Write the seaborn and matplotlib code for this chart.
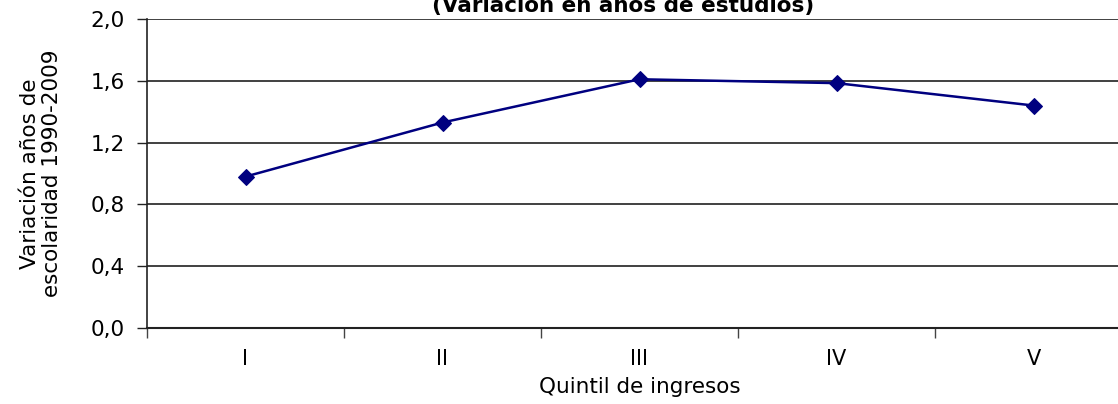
import numpy as np
import pandas as pd
import seaborn as sns
import matplotlib.pyplot as plt
from matplotlib.ticker import FuncFormatter, FixedLocator

# data
quintiles = ["I", "II", "III", "IV", "V"]
variacion = [0.98, 1.33, 1.61, 1.585, 1.44]

df = pd.DataFrame({"quintil": quintiles, "variacion": variacion})

sns.set_style("white")
plt.rcParams['font.family'] = ['DejaVu Sans']
plt.rcParams['text.color'] = 'black'
plt.rcParams['axes.labelcolor'] = 'black'
plt.rcParams['xtick.color'] = 'black'
plt.rcParams['ytick.color'] = 'black'

fig = plt.figure(figsize=(11.18, 4.04), dpi=100)
ax = fig.add_axes([147 / 1118, 76 / 404, 985 / 1118, 309 / 404])

sns.lineplot(data=df, x="quintil", y="variacion", ax=ax, color="#000080",
             marker="D", markersize=8, markeredgecolor="#000080",
             linewidth=1.8, sort=False)

ax.set_ylim(0, 2.0)
ax.set_xlim(-0.5, 4.5)
ax.set_yticks(np.arange(0, 2.01, 0.4))
ax.yaxis.set_major_formatter(FuncFormatter(lambda v, p: f"{v:.1f}".replace(".", ",")))
ax.yaxis.grid(True, color="#202020", linewidth=1.2)
ax.set_axisbelow(True)

# tick marks between categories, labels at the centres
ax.xaxis.set_minor_locator(FixedLocator(np.arange(-0.5, 4.6, 1)))
ax.tick_params(axis="x", which="major", length=0, labelsize=15, pad=15)
ax.tick_params(axis="x", which="minor", length=7, width=1, color="#444444", direction="out")
ax.tick_params(axis="y", length=7, width=1, color="#222222", direction="out", labelsize=15.5, pad=9)
ax.tick_params(bottom=True, left=True, which="both")

for s in ["top", "right"]:
    ax.spines[s].set_visible(False)
ax.spines["left"].set_color("#222222")
ax.spines["bottom"].set_color("#222222")
ax.spines["left"].set_linewidth(1.2)
ax.spines["bottom"].set_linewidth(1.5)

ax.set_xlabel("Quintil de ingresos", fontsize=15.5, labelpad=6)
ax.set_ylabel("Variación años de\nescolaridad 1990-2009", fontsize=15.5, linespacing=1.15)
ax.yaxis.set_label_coords(-85 / 985, 0.5)

fig.text(623 / 1118, 1 - 12 / 404, "(Variación en años de estudios)", ha="center",
         va="baseline", fontsize=15.5, fontweight="bold")

fig.savefig("out.png", dpi=100)
